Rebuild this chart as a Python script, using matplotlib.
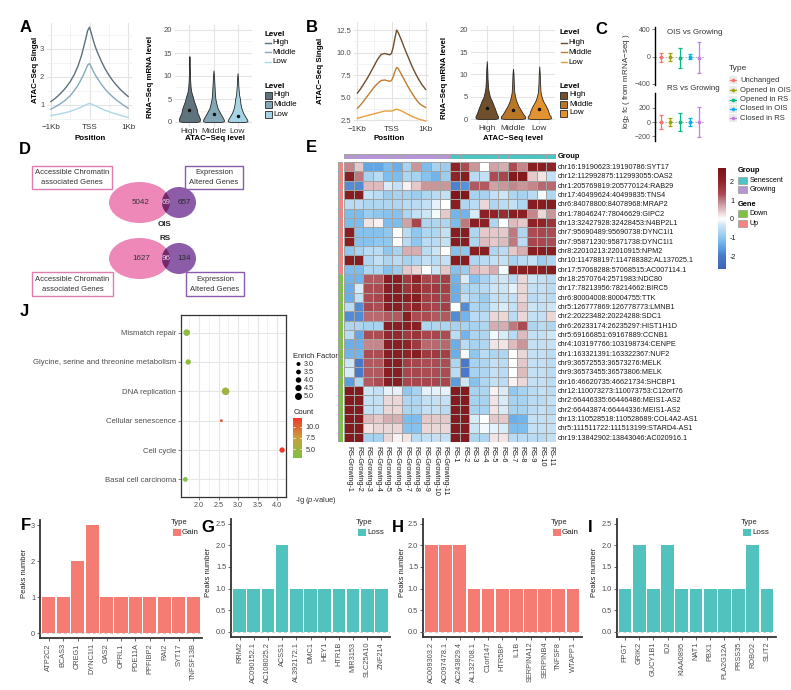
import numpy as np
import matplotlib
matplotlib.use("Agg")
import matplotlib.pyplot as plt
from matplotlib.patches import Ellipse, Rectangle
from matplotlib.colors import LinearSegmentedColormap, ListedColormap, Normalize

plt.rcParams['font.family'] = ['Liberation Sans', 'DejaVu Sans']
plt.rcParams['mathtext.fontset'] = 'custom'
plt.rcParams['mathtext.rm'] = 'Liberation Sans'
plt.rcParams['mathtext.it'] = 'Liberation Sans:italic'
plt.rcParams['mathtext.bf'] = 'Liberation Sans:bold'

# ------------------------------------------------------------------ DATA
positions = [-1000, -900, -800, -700, -600, -500, -400, -300, -200, -100, -50, 0,
             50, 100, 150, 200, 300, 400, 500, 600, 700, 800, 900, 1000]
pos_labels = ['−1Kb', 'TSS', '1Kb']
levels = ['High', 'Middle', 'Low']

a_high = [1.12, 1.22, 1.34, 1.48, 1.64, 1.83, 2.07, 2.38, 2.8, 3.35, 3.65, 3.78,
          3.55, 3.3, 3.08, 2.9, 2.58, 2.3, 2.07, 1.87, 1.7, 1.55, 1.42, 1.3]
a_mid = [0.85, 0.92, 1.0, 1.09, 1.2, 1.33, 1.5, 1.7, 1.95, 2.25, 2.42, 2.48,
         2.35, 2.2, 2.07, 1.96, 1.75, 1.57, 1.42, 1.29, 1.17, 1.07, 0.97, 0.88]
a_low = [0.62, 0.64, 0.67, 0.7, 0.73, 0.77, 0.82, 0.87, 0.93, 1.0, 1.03, 1.05,
         1.03, 1.0, 0.97, 0.94, 0.87, 0.81, 0.76, 0.71, 0.67, 0.63, 0.59, 0.55]

b_high = [5.5, 6.0, 6.6, 7.2, 7.9, 8.6, 9.3, 9.8, 9.9, 9.8, 9.75, 9.9,
          10.6, 11.6, 12.5, 12.2, 11.3, 10.3, 9.4, 8.5, 7.7, 7.0, 6.4, 5.9]
b_mid = [3.8, 4.2, 4.7, 5.2, 5.7, 6.2, 6.6, 6.9, 6.95, 6.85, 6.8, 6.9,
         7.3, 7.9, 8.35, 8.2, 7.5, 6.8, 6.1, 5.5, 4.9, 4.4, 4.1, 3.9]
b_low = [2.7, 2.8, 2.9, 3.0, 3.1, 3.2, 3.3, 3.4, 3.5, 3.5, 3.5, 3.5,
         3.55, 3.65, 3.7, 3.65, 3.5, 3.3, 3.1, 2.9, 2.75, 2.6, 2.5, 2.4]

# violin outlines: RNA level (y) and half width
va_high_y = [0, 0.15, 0.6, 1.2, 2.0, 2.7, 3.5, 4.5, 5.5, 6.5, 7.5, 9, 11, 13, 14.3]
va_high_w = [0.30, 0.42, 0.44, 0.40, 0.33, 0.31, 0.26, 0.19, 0.14, 0.08, 0.05, 0.03, 0.02, 0.012, 0]
va_mid_y = [0, 0.15, 0.5, 1.0, 2.0, 3.0, 4.0, 5.0, 6.0, 8.0, 10.0, 11.2]
va_mid_w = [0.32, 0.43, 0.43, 0.38, 0.27, 0.17, 0.12, 0.08, 0.06, 0.04, 0.02, 0]
va_low_y = [0, 0.15, 0.5, 1.0, 2.0, 3.0, 4.0, 5.0, 6.0, 8.0, 9.5, 10.6]
va_low_w = [0.30, 0.41, 0.40, 0.34, 0.23, 0.16, 0.12, 0.10, 0.06, 0.03, 0.02, 0]
a_dots = [2.7, 1.8, 1.4]

vb_high_y = [0, 0.15, 0.6, 1.2, 2.5, 4.0, 5.0, 6.0, 7.0, 9.0, 11.0, 13.0]
vb_high_w = [0.30, 0.42, 0.43, 0.38, 0.30, 0.20, 0.12, 0.08, 0.05, 0.03, 0.02, 0]
vb_mid_y = [0, 0.15, 0.6, 1.0, 2.0, 3.0, 4.0, 5.0, 6.0, 8.0, 10.0, 11.3]
vb_mid_w = [0.32, 0.46, 0.46, 0.40, 0.30, 0.20, 0.13, 0.08, 0.05, 0.03, 0.02, 0]
vb_low_y = [0, 0.15, 0.6, 1.0, 2.0, 3.0, 4.0, 5.0, 6.0, 8.0, 10.0, 11.8]
vb_low_w = [0.30, 0.44, 0.44, 0.38, 0.33, 0.25, 0.15, 0.09, 0.05, 0.03, 0.02, 0]
b_dots = [2.5, 2.1, 2.2]

# C: error bars
c_types = ['Unchanged', 'Opened in OIS', 'Opened in RS', 'Closed in OIS', 'Closed in RS']
ois_mid = [-10, -5, -15, -4, -15]
ois_lo = [-77, -67, -166, -41, -249]
ois_hi = [47, 56, 130, 33, 219]
rs_mid = [0, 0, -2, 0, 0]
rs_lo = [-100, -52, -129, -57, -210]
rs_hi = [100, 52, 124, 62, 210]

# D: Venn
venn_sets = ['OIS', 'RS']
atac_only = [5042, 1627]
shared = [69, 96]
expr_only = [657, 134]

# E: heatmap
col_names = ['RS-Growing-1', 'RS-Growing-2', 'RS-Growing-3', 'RS-Growing-4', 'RS-Growing-5',
             'RS-Growing-6', 'RS-Growing-7', 'RS-Growing-8', 'RS-Growing-9', 'RS-Growing-10',
             'RS-Growing-11', 'RS-1', 'RS-2', 'RS-3', 'RS-4', 'RS-5', 'RS-6', 'RS-7', 'RS-8',
             'RS-9', 'RS-10', 'RS-11']
col_groups = ['Growing', 'Growing', 'Growing', 'Growing', 'Growing', 'Growing', 'Growing',
              'Growing', 'Growing', 'Growing', 'Growing', 'Senescent', 'Senescent', 'Senescent',
              'Senescent', 'Senescent', 'Senescent', 'Senescent', 'Senescent', 'Senescent',
              'Senescent', 'Senescent']
row_names = ['chr16:19190623:19190786:SYT17', 'chr12:112992875:112993055:OAS2',
             'chr1:205769819:205770124:RAB29', 'chr17:40499624:40499835:TNS4',
             'chr6:84078800:84078968:MRAP2', 'chr1:78046247:78046629:GIPC2',
             'chr13:32427928:32428453:N4BP2L1', 'chr7:95690489:95690738:DYNC1I1',
             'chr7:95871230:95871738:DYNC1I1', 'chr8:22010213:22010915:NPM2',
             'chr10:114788197:114788382:AL137025.1', 'chr17:57068288:57068515:AC007114.1',
             'chr18:2570764:2571983:NDC80', 'chr17:78213956:78214662:BIRC5',
             'chr6:80004008:80004755:TTK', 'chr5:126777869:126778773:LMNB1',
             'chr2:20223482:20224288:SDC1', 'chr6:26233174:26235297:HIST1H1D',
             'chr5:69166851:69167889:CCNB1', 'chr4:103197766:103198734:CENPE',
             'chr1:163321391:163322367:NUF2', 'chr9:36572553:36573276:MELK',
             'chr9:36573455:36573806:MELK', 'chr16:46620735:46621734:SHCBP1',
             'chr12:110073273:110073753:C12orf76', 'chr2:66446335:66446486:MEIS1-AS2',
             'chr2:66443874:66444336:MEIS1-AS2', 'chr13:110528518:110528689:COL4A2-AS1',
             'chr5:111511722:111513199:STARD4-AS1', 'chr19:13842902:13843046:AC020916.1']
row_genes = ['Up', 'Up', 'Up', 'Up', 'Up', 'Up', 'Up', 'Up', 'Up', 'Up', 'Up', 'Up',
             'Down', 'Down', 'Down', 'Down', 'Down', 'Down', 'Down', 'Down', 'Down', 'Down',
             'Down', 'Down', 'Down', 'Down', 'Down', 'Down', 'Down', 'Down']
heat_values = [
    [0.9, 0.4, -1.5, -1.5, -1.2, -1.4, -0.8, 0.8, -1.2, -0.8, -0.9, 2.0, 1.3, 0.8, 0.0, 0.7, 0.6, 1.3, 0.9, 2.2, 2.2, 2.0],
    [2.2, 1.0, -0.8, -0.6, -1.2, -1.2, -0.7, -0.8, -1.1, -1.3, -0.9, 2.0, 2.3, -0.6, -0.5, 1.3, 1.4, 2.4, 2.4, 0.4, 0.2, -0.5],
    [-1.8, -1.8, 0.5, 0.5, -0.3, -0.5, 0.1, 0.4, 0.8, 0.8, 0.8, -1.9, -1.7, 1.2, 1.2, 0.7, 0.8, 0.9, 0.8, 0.9, 1.1, 1.1],
    [2.3, 2.3, -0.5, -0.6, -0.9, -0.8, -0.8, -0.9, -0.7, -0.6, -0.5, 2.5, 2.5, -0.8, -0.8, -0.5, -0.4, -0.7, -0.8, -0.6, -0.1, -0.7],
    [-0.6, -0.6, -0.7, -0.7, -0.7, -0.7, -0.6, -0.6, -0.5, -0.2, 0.0, 2.2, -0.7, -0.6, 0.3, -0.7, -0.6, -0.5, -0.7, 2.3, 2.3, 2.3],
    [-1.2, -1.2, -0.9, -1.0, -1.1, -1.1, -0.7, -0.5, -0.4, -0.1, 0.4, -1.3, -1.3, -0.3, 2.1, 2.0, 1.8, 2.2, 2.1, 0.9, 0.3, 0.8],
    [-1.2, -1.2, 0.2, 0.1, -1.2, -1.2, 0.7, 1.4, -0.7, -0.7, -0.7, -1.2, 1.0, 2.2, 2.1, -0.7, 0.0, 0.5, 0.4, 2.0, 2.0, 1.7],
    [2.2, -1.1, -1.1, -1.1, -1.0, 0.0, -0.6, -1.0, -0.7, -0.7, -0.5, 2.3, 2.3, -0.7, 0.4, 0.4, 0.4, 1.0, -0.7, 1.3, 1.4, 1.3],
    [2.2, -1.1, -1.1, -1.0, -1.0, 0.0, -0.6, -1.0, -0.6, -0.6, -0.5, 2.3, 2.3, -0.7, 0.5, 0.4, 0.5, 1.0, -0.6, 1.4, 1.4, 1.3],
    [-1.0, -0.8, -0.6, -0.6, -1.0, -0.8, 0.6, 0.6, -0.6, -0.4, 0.0, -1.1, -1.0, 2.2, 2.2, -0.7, -0.6, 0.4, 0.6, 2.2, 2.3, 2.2],
    [2.3, 2.3, -0.7, -0.5, -0.7, -0.6, -0.8, -0.7, -0.5, -0.6, -0.5, 2.3, 2.3, -0.7, -0.6, -0.5, -0.5, -0.8, -0.6, -0.5, -0.9, -0.7],
    [-1.2, -1.2, -0.7, -0.7, -1.1, -0.9, 0.4, 0.3, 0.0, -0.4, 0.4, -1.1, -0.9, 0.5, 0.4, 0.6, -0.1, 2.2, 2.2, 2.2, 2.2, 2.3],
    [-1.3, -1.3, 1.2, 1.2, 2.2, 2.2, 1.6, 2.0, 1.4, 1.4, 1.5, -1.3, -0.3, -1.1, -0.8, -0.5, -0.4, -0.6, 0.3, -0.4, -0.5, -0.6],
    [-1.4, -0.3, 1.3, 1.3, 2.2, 2.2, 1.7, 1.9, 1.6, 1.6, 1.5, -1.4, -0.7, -0.7, -0.6, -0.4, -0.4, -0.2, 0.3, -0.5, -0.5, -0.6],
    [-1.4, -0.5, 1.3, 1.4, 2.3, 2.3, 2.2, 2.3, 1.5, 1.5, 1.4, -1.4, -0.5, -0.7, -0.9, -0.5, -0.5, -0.5, 0.3, -0.6, -0.5, -0.6],
    [-0.6, -1.8, 1.4, 1.3, 2.2, 2.2, 1.8, 2.0, 1.5, 1.4, 1.5, 0.0, -1.8, -0.7, -0.8, -0.4, -0.3, -0.5, 0.4, -0.4, -0.5, -0.4],
    [-1.8, -1.8, 1.1, 1.1, 1.2, 1.2, 2.2, 1.3, 1.3, 1.2, 1.2, -1.8, -1.3, -0.6, -0.6, 0.3, 0.3, -0.6, 0.3, -0.5, -0.5, 0.3],
    [-0.7, -0.7, -0.8, -0.8, 2.2, 2.2, 2.2, 2.2, -0.7, -0.7, -0.7, -0.8, -0.8, -0.8, -0.7, 0.6, 0.6, 1.0, 1.3, -0.7, -0.6, -0.7],
    [-0.6, -1.5, 1.3, 1.3, 1.9, 1.9, 1.6, 1.7, 1.4, 1.4, 1.3, -0.6, -1.3, -0.7, -0.7, -0.1, -0.3, -0.6, 0.5, -0.5, -0.5, -0.4],
    [-1.4, -1.4, 0.9, 0.9, 2.2, 2.2, 2.0, 1.6, 1.1, 1.1, 1.1, -1.4, -0.6, -0.8, -0.7, 0.2, 0.2, 0.5, 0.8, -0.5, -0.5, -0.5],
    [-1.3, -1.3, 1.3, 1.3, 2.2, 2.2, 2.0, 2.3, 1.6, 1.6, 1.5, -1.4, -0.1, -1.0, -0.6, -0.7, -0.7, 0.0, 0.3, -0.5, -0.5, -0.6],
    [-0.4, -2.0, 1.2, 1.2, 2.2, 2.2, 1.5, 1.4, 1.3, 1.3, 1.3, -0.7, -2.0, -0.8, -0.7, -0.5, -0.6, 0.0, 0.4, -0.5, -0.5, -0.6],
    [-0.3, -2.0, 1.2, 1.2, 2.2, 2.2, 1.4, 1.4, 1.3, 1.3, 1.3, -0.6, -2.0, -0.8, -0.7, -0.5, -0.6, 0.0, 0.5, -0.5, -0.5, -0.6],
    [-1.6, -0.7, 1.2, 1.3, 2.2, 2.2, 1.4, 1.4, 1.4, 1.4, 1.4, -1.6, -0.4, -1.1, -0.7, -0.5, -0.6, 0.1, 0.3, -0.5, -0.5, -0.6],
    [2.4, 2.4, -0.4, -0.5, -0.2, -0.2, -1.0, -0.8, -0.2, -0.2, -0.2, 2.4, 2.4, -0.8, -0.7, 0.1, -0.3, -1.0, -0.8, -0.6, -0.5, -0.6],
    [2.4, 2.4, -0.5, -0.5, 0.3, 0.3, -0.7, -0.7, -0.5, -0.5, -0.5, 2.4, 2.4, -0.8, -0.8, 0.2, -0.3, -0.8, -0.8, -0.6, -0.6, -0.5],
    [2.4, 2.4, -0.5, -0.5, 0.3, 0.3, -0.7, -0.7, -0.5, -0.5, -0.6, 2.4, 2.4, -0.8, -0.8, 0.2, -0.3, -0.8, -0.8, -0.6, -0.5, -0.6],
    [2.4, 2.4, 0.5, 0.4, 0.6, 0.6, -1.2, -1.2, 0.4, 0.4, 0.4, 2.4, 2.4, -0.3, 0.0, 0.4, 0.4, -1.4, -1.3, -0.5, -0.5, -0.5],
    [2.4, 2.4, 0.2, 0.3, 0.3, 0.3, -1.1, -1.1, 0.3, 0.3, 0.3, 2.4, 2.4, -0.4, -0.1, -0.2, -0.3, -1.2, -1.2, -0.5, -0.5, -0.5],
    [2.4, 2.4, -0.8, -0.8, 0.3, 0.1, 0.2, -0.6, -0.5, -0.5, -0.5, 2.4, 2.4, -0.7, -0.7, 0.2, 0.2, -0.6, -0.6, -0.6, -0.6, -0.5],
]
heat_ticks = [-2, -1, 0, 1, 2]

# J: enrichment
j_terms = ['Mismatch repair', 'Glycine, serine and threonine metabolism', 'DNA replication',
           'Cellular senescence', 'Cell cycle', 'Basal cell carcinoma']
j_lgp = [1.68, 1.72, 2.68, 2.57, 4.13, 1.646]
j_enrich = [4.8, 3.9, 5.4, 2.2, 3.9, 3.5]
j_count = [4, 4, 5, 11, 12, 3]
enrich_breaks = [3.0, 3.5, 4.0, 4.5, 5.0]
count_breaks = [5.0, 7.5, 10.0]

# F-I: peaks
f_genes = ['ATP2C2', 'BCAS3', 'CREG1', 'DYNC1I1', 'OAS2', 'OPRL1', 'PDE11A', 'PPFIBP2',
           'RAI2', 'SYT17', 'TNFSF13B']
f_peaks = [1, 1, 2, 3, 1, 1, 1, 1, 1, 1, 1]
g_genes = ['RRM2', 'AC090152.1', 'AC108025.2', 'ACSS1', 'AL392172.1', 'DMC1', 'HEY1',
           'HTR1B', 'MIR3153', 'SLC25A10', 'ZNF214']
g_peaks = [1, 1, 1, 2, 1, 1, 1, 1, 1, 1, 1]
h_genes = ['AC009303.2', 'AC097478.1', 'AC243829.4', 'AL132708.1', 'C1orf147', 'HTR5BP',
           'IL1B', 'SERPINA12', 'SERPINB4', 'TNFSF8', 'WTAPP1']
h_peaks = [2, 2, 2, 1, 1, 1, 1, 1, 1, 1, 1]
i_genes = ['FPGT', 'GRIK2', 'GUCY1B1', 'ID2', 'KIAA0895', 'NAT1', 'PBX1', 'PLA2G12A',
           'PRSS35', 'ROBO2', 'SLIT2']
i_peaks = [1, 2, 1, 2, 1, 1, 1, 1, 1, 2, 1]

# ------------------------------------------------------------------ STYLE
a_line_cols = ['#5d717b', '#86aabb', '#acd8ea']
a_fill_cols = ['#5f737d', '#83a7b7', '#a5d4e6']
b_line_cols = ['#6e4f2d', '#c27c2c', '#eb9c3e']
b_fill_cols = ['#6f4f2c', '#b97626', '#e2922f']
c_colors = ['#F8766D', '#A3A500', '#00BF7D', '#00B0F6', '#C27FE0']
gain_col = '#F47C72'
loss_col = '#52C2BE'
GREY = '#4d4d4d'

W, H = 791, 690
fig = plt.figure(figsize=(W / 100, H / 100), dpi=100)


def pax(x0, y0, x1, y1):
    return fig.add_axes([x0 / W, 1 - y1 / H, (x1 - x0) / W, (y1 - y0) / H])


ov = fig.add_axes([0, 0, 1, 1])
ov.set_xlim(0, W)
ov.set_ylim(H, 0)
ov.axis('off')
ov.set_zorder(20)


def T(x, y, s, size=5.5, ha='left', va='center', **kw):
    ov.text(x, y, s, fontsize=size, ha=ha, va=va, **kw)


def style_minimal(ax):
    ax.grid(True, which='major', color='#e3e3e3', lw=0.8)
    ax.grid(True, which='minor', color='#efefef', lw=0.5)
    ax.set_axisbelow(True)
    for s in ax.spines.values():
        s.set_visible(False)
    ax.tick_params(which='both', length=0, labelsize=5.5, labelcolor=GREY, pad=2)
    ax.set_facecolor('none')


def profile_plot(ax, series, cols, ylim, yt, ytl, yminor):
    for v, c in zip(series, cols):
        ax.plot(positions, v, color=c, lw=1.0)
    ax.set_xlim(-1100, 1100)
    ax.set_ylim(*ylim)
    ax.set_xticks([-1000, 0, 1000])
    ax.set_xticklabels(pos_labels)
    ax.set_xticks([-500, 500], minor=True)
    ax.set_yticks(yt)
    ax.set_yticklabels(ytl)
    ax.set_yticks(yminor, minor=True)
    style_minimal(ax)
    ax.tick_params(axis='x', labelcolor='#333333', labelsize=5.8, pad=3)


def violin_plot(ax, shapes, cols, dots):
    for i, ((lv, wd), c, d) in enumerate(zip(shapes, cols, dots)):
        lv = np.asarray(lv, float)
        wd = np.asarray(wd, float)
        xc = i + 1
        ax.fill_betweenx(lv, xc - wd, xc + wd, facecolor=c, edgecolor='#262626', lw=0.6, zorder=2)
        ax.plot([xc], [d], 'o', color='#111111', ms=1.5, zorder=3)
    ax.set_xlim(0.4, 3.6)
    ax.set_ylim(-1, 21)
    ax.set_xticks([1, 2, 3])
    ax.set_xticklabels(levels)
    ax.set_yticks([0, 5, 10, 15, 20])
    ax.set_yticks([2.5, 7.5, 12.5, 17.5], minor=True)
    style_minimal(ax)
    ax.tick_params(axis='x', labelcolor='#333333', labelsize=6, pad=1)


def level_legends(x, ty1, ys1, ty2, ys2, line_cols, fill_cols):
    T(x, ty1, 'Level', 5.8, fontweight='bold')
    for y, c, lab in zip(ys1, line_cols, levels):
        ov.plot([x + 0.5, x + 6.5], [y, y], color=c, lw=1.0)
        T(x + 8, y, lab, 5.8)
    T(x, ty2, 'Level', 5.8, fontweight='bold')
    for y, c, lab in zip(ys2, fill_cols, levels):
        ov.add_patch(Rectangle((x, y - 3.5), 7, 7, facecolor=c, edgecolor='#262626', lw=0.6))
        T(x + 9, y, lab, 5.8)


# ------------------------------------------------------------------ A
axA1 = pax(47, 23, 132, 120)
profile_plot(axA1, [a_high, a_mid, a_low], a_line_cols, (0.46, 3.93), [1, 2, 3], ['1', '2', '3'],
             [0.5, 1.5, 2.5, 3.5])
axA2 = pax(175, 25.4, 252, 126.6)
violin_plot(axA2, [(va_high_y, va_high_w), (va_mid_y, va_mid_w), (va_low_y, va_low_w)],
            a_fill_cols, a_dots)
T(35.5, 70, 'ATAC−Seq Singal', 5.7, ha='center', rotation=90, fontweight='bold')
T(90, 138, 'Position', 5.7, ha='center', fontweight='bold')
T(151, 77, 'RNA−Seq mRNA level', 5.7, ha='center', rotation=90, fontweight='bold')
T(215, 138, 'ATAC−Seq level', 5.7, ha='center', fontweight='bold')
level_legends(264.5, 34, [43, 52, 61.5], 86, [95, 104.5, 114], a_line_cols, a_fill_cols)

# ------------------------------------------------------------------ B
axB1 = pax(354, 22, 429, 122)
profile_plot(axB1, [b_high, b_mid, b_low], b_line_cols, (2.28, 13.4),
             [2.5, 5, 7.5, 10, 12.5], ['2.5', '5.0', '7.5', '10.0', '12.5'],
             [3.75, 6.25, 8.75, 11.25])
axB2 = pax(471, 25.5, 555, 123.5)
violin_plot(axB2, [(vb_high_y, vb_high_w), (vb_mid_y, vb_mid_w), (vb_low_y, vb_low_w)],
            b_fill_cols, b_dots)
T(320, 71, 'ATAC−Seq Singal', 5.7, ha='center', rotation=90, fontweight='bold')
T(389, 138, 'Position', 5.7, ha='center', fontweight='bold')
T(444.5, 78, 'RNA−Seq mRNA level', 5.7, ha='center', rotation=90, fontweight='bold')
T(513, 138, 'ATAC−Seq level', 5.7, ha='center', fontweight='bold')
level_legends(560, 33, [43, 52, 62], 86, [95, 104, 113], b_line_cols, b_fill_cols)

# ------------------------------------------------------------------ C
def err_panel(ax, mid, lo, hi, ylim, yt):
    ax.axhline(0, color='#a0a0a0', ls=(0, (2, 2)), lw=0.6, zorder=0)
    for i, c in enumerate(c_colors):
        ax.errorbar([i + 1], [mid[i]], yerr=[[mid[i] - lo[i]], [hi[i] - mid[i]]], fmt='o', ms=1.8,
                    color=c, ecolor=c, elinewidth=0.9, capsize=1.6, capthick=0.9, zorder=3)
    ax.set_xlim(0.4, 5.6)
    ax.set_ylim(*ylim)
    ax.set_xticks([])
    ax.set_yticks(yt)
    for s in ['top', 'right', 'bottom']:
        ax.spines[s].set_visible(False)
    ax.spines['left'].set_color('black')
    ax.spines['left'].set_linewidth(1.0)
    ax.tick_params(axis='y', labelsize=5, labelcolor=GREY, length=2, width=0.5, color=GREY, pad=1.5)
    ax.set_facecolor('none')


axC1 = pax(655, 27, 705, 85)
err_panel(axC1, ois_mid, ois_lo, ois_hi, (-422, 437), [-400, 0, 400])
axC2 = pax(655, 93, 705, 141)
err_panel(axC2, rs_mid, rs_lo, rs_hi, (-271, 414), [-200, 0, 200])
T(667, 32, 'OIS vs Growing', 5.7, color='#333333')
T(667, 89, 'RS vs Growing', 5.7, color='#333333')
T(627, 81, r'$\mathregular{log_2}$ fc ( from mRNA−seq )', 5.8, ha='center', rotation=90,
  color='#333333')
T(729, 69, 'Type', 6, color='#333333')
for y, c, lab in zip([80, 90, 99.5, 109, 118], c_colors, c_types):
    ov.add_patch(Rectangle((729, y - 4), 8, 8, facecolor='#ebebeb', edgecolor='none'))
    ov.plot([730, 736], [y, y], color=c, lw=0.8)
    ov.plot([733], [y], 'o', color=c, ms=1.6)
    T(740, y, lab, 5.5, color='#333333')

# ------------------------------------------------------------------ D (Venn)
for k, (cy, ny, lab) in enumerate(zip([202.5, 258.5], [224, 239], venn_sets)):
    e1 = Ellipse((139.5, cy), 61, 41, facecolor='#EE88B9', edgecolor='none')
    ov.add_patch(e1)
    ov.add_patch(Ellipse((179, cy), 34, 31, facecolor='#8C5CA8', edgecolor='none'))
    e3 = Ellipse((179, cy), 34, 31, facecolor='#74296E', edgecolor='none')
    ov.add_patch(e3)
    e3.set_clip_path(e1)
    T(141, cy, str(atac_only[k]), 5.8, ha='center', color='#333333')
    T(166, cy, str(shared[k]), 5.8, ha='center', color='#f2dcef')
    T(184.5, cy, str(expr_only[k]), 5.8, ha='center', color='#2a2a2a')
    T(165, ny, lab, 5.8, ha='center', fontweight='bold', color='#222222')

for (x0, y0, w, h, ec, l1, l2) in [(32, 166, 80, 23, '#E07BB0', 'Accessible Chromatin', 'associated Genes'),
                                    (185, 166, 58, 23, '#8A5BA8', 'Expression', 'Altered Genes'),
                                    (32, 272, 81, 24, '#E07BB0', 'Accessible Chromatin', 'associated Genes'),
                                    (186, 272, 58, 24, '#8A5BA8', 'Expression', 'Altered Genes')]:
    ov.add_patch(Rectangle((x0, y0), w, h, facecolor='none', edgecolor=ec, lw=1.0))
    T(x0 + w / 2, y0 + h * 0.30, l1, 5.5, ha='center', color='#333333')
    T(x0 + w / 2, y0 + h * 0.72, l2, 5.5, ha='center', color='#333333')

# ------------------------------------------------------------------ E (heatmap)
heat_nodes = [-2.7, -2.0, -1.6, -1.2, -0.8, -0.4, 0.0, 0.4, 0.8, 1.3, 2.0, 2.75]
heat_cols = ['#3E64B4', '#4A7ACB', '#5C9EE0', '#7CBDEE', '#A7D2F0', '#CCE5F6', '#FFFFFF',
             '#E5C8CA', '#C9979B', '#AB4C52', '#8E2428', '#7A1215']
vmin, vmax = -2.7, 2.75
heat_cmap = LinearSegmentedColormap.from_list(
    'heat', [((v - vmin) / (vmax - vmin), c) for v, c in zip(heat_nodes, heat_cols)])
heat_norm = Normalize(vmin, vmax)
CELL_EDGE = '#a3a3a3'

hax = pax(344, 162, 556, 442)
M = np.array(heat_values)
hax.pcolormesh(M, cmap=heat_cmap, norm=heat_norm, edgecolors=CELL_EDGE, linewidth=0.6)
hax.set_xlim(0, M.shape[1])
hax.set_ylim(M.shape[0], 0)
hax.set_xticks(np.arange(M.shape[1]) + 0.5)
hax.set_xticklabels(col_names, rotation=-90, fontsize=5.2, color='#1a1a1a')
hax.yaxis.tick_right()
hax.set_yticks(np.arange(M.shape[0]) + 0.5)
hax.set_yticklabels(row_names, fontsize=5.2, color='#1a1a1a')
hax.tick_params(length=0)
hax.tick_params(axis='x', pad=3)
hax.tick_params(axis='y', pad=1.5)
for s in hax.spines.values():
    s.set_visible(False)

group_cols = {'Growing': '#B794D6', 'Senescent': '#4DC3C3'}
gene_cols = {'Up': '#F28482', 'Down': '#7FC241'}
gax = pax(344, 154, 556, 159)
gkeys = list(group_cols.keys())
gax.pcolormesh(np.array([[gkeys.index(g) for g in col_groups]]),
               cmap=ListedColormap([group_cols[k] for k in gkeys]), vmin=-0.5, vmax=1.5,
               edgecolors=CELL_EDGE, linewidth=0.6)
gax.axis('off')
rax = pax(338.3, 162, 342.7, 442)
rkeys = list(gene_cols.keys())
rax.pcolormesh(np.array([[rkeys.index(g)] for g in row_genes]),
               cmap=ListedColormap([gene_cols[k] for k in rkeys]), vmin=-0.5, vmax=1.5,
               edgecolors=CELL_EDGE, linewidth=0.6)
rax.set_ylim(len(row_genes), 0)
rax.axis('off')
T(558, 157, 'Group', 5.4, fontweight='bold')

cbE = pax(718, 168, 726, 269)
grad = np.linspace(vmin, vmax, 256).reshape(-1, 1)
cbE.imshow(grad, aspect='auto', cmap=heat_cmap, norm=heat_norm, origin='lower',
           extent=[0, 1, vmin, vmax])
cbE.set_xticks([])
cbE.yaxis.tick_right()
cbE.set_yticks(heat_ticks)
cbE.set_yticklabels([str(t) for t in heat_ticks])
cbE.tick_params(length=0, labelsize=5.2, pad=3, labelcolor='#1a1a1a')
for s in cbE.spines.values():
    s.set_visible(False)

T(738, 171, 'Group', 5.4, fontweight='bold')
for y, k in zip([180, 189.5], ['Senescent', 'Growing']):
    ov.add_patch(Rectangle((738, y - 3.5), 9, 7, facecolor=group_cols[k], edgecolor='#9a9a9a', lw=0.5))
    T(749.5, y, k, 5.1)
T(738, 204, 'Gene', 5.4, fontweight='bold')
for y, k in zip([213.7, 223.5], ['Down', 'Up']):
    ov.add_patch(Rectangle((738, y - 3.5), 9, 7, facecolor=gene_cols[k], edgecolor='#9a9a9a', lw=0.5))
    T(749.5, y, k, 5.1)

# ------------------------------------------------------------------ J
count_cmap = LinearSegmentedColormap.from_list('cnt', ['#7DC242', '#C9A13E', '#F2382C'])


def dot_size(ef):
    d_px = 4 + 1.5 * (ef - 3)
    return (d_px * 0.72) ** 2


jax = pax(181, 315, 286, 497)
ypos = np.arange(len(j_terms), 0, -1)
jax.scatter(j_lgp, ypos, s=[dot_size(e) for e in j_enrich], c=j_count, cmap=count_cmap,
            vmin=3, vmax=12, zorder=3, edgecolors='none')
jax.set_xlim(1.535, 4.23)
jax.set_ylim(0.4, len(j_terms) + 0.6)
jax.set_yticks(ypos)
jax.set_yticklabels(j_terms)
jax.set_xticks([2.0, 2.5, 3.0, 3.5, 4.0])
jax.set_xticklabels(['2.0', '2.5', '3.0', '3.5', '4.0'])
jax.set_xticks([1.75, 2.25, 2.75, 3.25, 3.75], minor=True)
jax.grid(True, which='major', color='#e6e6e6', lw=0.8)
jax.grid(True, which='minor', axis='x', color='#f0f0f0', lw=0.6)
jax.set_axisbelow(True)
for s in jax.spines.values():
    s.set_color('#333333')
    s.set_linewidth(0.9)
jax.tick_params(labelsize=5.2, labelcolor=GREY, length=2, width=0.5, color=GREY, pad=1.5)
jax.tick_params(axis='y', labelsize=5.6)
jax.tick_params(which='minor', length=0)

T(293, 356, 'Enrich Factor', 5.4, color='#222222')
ov.scatter([298.5] * len(enrich_breaks), [364, 372, 380, 388, 396.5],
           s=[dot_size(e) for e in enrich_breaks], color='black', edgecolors='none')
for y, e in zip([364, 372, 380, 388, 396.5], enrich_breaks):
    T(304, y, '%.1f' % e, 5.2, color='#333333')
T(294, 413, 'Count', 5.4, color='#222222')
cbJ = pax(293, 418, 302, 458)
cbJ.imshow(np.linspace(3, 12, 256).reshape(-1, 1), aspect='auto', cmap=count_cmap, origin='lower',
           extent=[0, 1, 3, 12])
cbJ.hlines(count_breaks, 0, 0.2, color='white', lw=0.6)
cbJ.hlines(count_breaks, 0.8, 1, color='white', lw=0.6)
cbJ.set_xlim(0, 1)
cbJ.set_ylim(3, 12)
cbJ.set_xticks([])
cbJ.yaxis.tick_right()
cbJ.set_yticks(count_breaks)
cbJ.set_yticklabels(['%.1f' % c for c in count_breaks])
cbJ.tick_params(length=0, labelsize=5.2, pad=2.5, labelcolor='#333333')
for s in cbJ.spines.values():
    s.set_visible(False)
T(295, 500, r'-lg ($\it{p}$-value)', 5.4, color='#333333')


# ------------------------------------------------------------------ F-I
def bar_panel(ax, names, vals, color, ymax, yt, ytl):
    x = np.arange(len(names))
    ax.bar(x, vals, width=0.9, color=color, zorder=2)
    ax.axhline(0, color='#d0d0d0', lw=0.7, ls=(0, (3, 3)), zorder=3)
    ax.set_xlim(-0.6, len(names) - 0.4)
    ax.set_ylim(-0.05 * ymax, 1.05 * ymax)
    ax.set_xticks(x)
    ax.set_xticklabels(names, rotation=90)
    ax.set_yticks(yt)
    ax.set_yticklabels(ytl)
    for s in ['top', 'right']:
        ax.spines[s].set_visible(False)
    for s in ['left', 'bottom']:
        ax.spines[s].set_color('#333333')
        ax.spines[s].set_linewidth(1.3)
    ax.tick_params(labelsize=5.3, labelcolor=GREY, length=2, width=0.6, color=GREY, pad=1.5)
    ax.set_facecolor('none')


yt25 = [0, 0.5, 1.0, 1.5, 2.0, 2.5]
ytl25 = ['0.0', '0.5', '1.0', '1.5', '2.0', '2.5']
axF = pax(40, 519.6, 202, 638.4)
bar_panel(axF, f_genes, f_peaks, gain_col, 3, [0, 1, 2, 3], ['0', '1', '2', '3'])
axG = pax(231, 518.6, 390, 636.9)
bar_panel(axG, g_genes, g_peaks, loss_col, 2.5, yt25, ytl25)
axH = pax(423, 518.6, 581.5, 636.9)
bar_panel(axH, h_genes, h_peaks, gain_col, 2.5, yt25, ytl25)
axI = pax(616.5, 518.6, 775.5, 636.9)
bar_panel(axI, i_genes, i_peaks, loss_col, 2.5, yt25, ytl25)

for x, y in [(25, 573), (209, 572), (403, 572), (594, 572)]:
    T(x, y, 'Peaks number', 5.5, ha='center', rotation=90, color='#222222')
for x, lab, col in [(171, 'Gain', gain_col), (356, 'Loss', loss_col), (551, 'Gain', gain_col),
                    (741, 'Loss', loss_col)]:
    T(x, 522, 'Type', 5.5, color='#222222')
    ov.add_patch(Rectangle((x + 1.5, 528.5), 8, 7, facecolor=col, edgecolor='none'))
    T(x + 11, 532, lab, 5.8, color='#222222')

# ------------------------------------------------------------------ panel letters
for lab, x, y in [('A', 26, 27), ('B', 312, 28), ('C', 601, 29), ('D', 25, 149), ('E', 311, 148),
                  ('J', 24, 312), ('F', 26, 526), ('G', 208, 527), ('H', 398, 527), ('I', 590, 527)]:
    T(x, y, lab, 12, ha='center', fontweight='bold', color='black')

fig.savefig('out.png', dpi=100)
